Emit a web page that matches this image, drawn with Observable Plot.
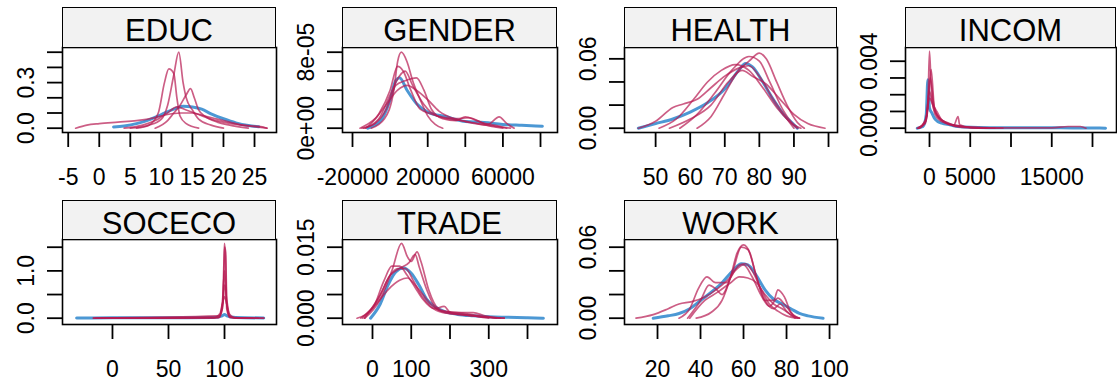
<!DOCTYPE html>
<html><head><meta charset="utf-8">
<script src="https://cdn.jsdelivr.net/npm/d3@7"></script>
<script src="https://cdn.jsdelivr.net/npm/@observablehq/plot@0.6"></script>
<style>
body{margin:0;background:#fff;}
#root{position:relative;width:1117px;height:385px;overflow:hidden;font-family:"Liberation Sans",Arial,sans-serif;}
.strip{position:absolute;box-sizing:border-box;border:1.6px solid #000;background:#F2F2F2;}
.stripText{position:absolute;text-align:center;font-size:31px;line-height:31px;color:#000;white-space:nowrap;}
.panel{position:absolute;}
</style></head><body><div id="root"></div>
<script>
// ---------------- data ----------------
const variables = ["EDUC","GENDER","HEALTH","INCOM","SOCECO","TRADE","WORK"];

// EDUC
const educObserved = [[2.3,0.008],[4,0.015],[6,0.03],[8,0.055],[10,0.09],[12,0.125],[13.5,0.145],[15,0.14],[16.5,0.125],[18,0.095],[20,0.062],[22,0.035],[24,0.018],[25.7,0.01]];
const educImputed = [
  [[-3.8,0],[-2,0.02],[0,0.03],[3,0.04],[6,0.05],[9,0.07],[11,0.09],[13,0.1],[15,0.1],[17,0.08],[19,0.06],[21,0.04],[23,0.02],[25,0.01],[27,0]],
  [[5,0],[8,0.02],[10,0.06],[11,0.15],[12,0.35],[12.8,0.5],[13.5,0.3],[14,0.2],[15,0.12],[16,0.06],[18,0.02],[20,0]],
  [[6,0],[8,0.02],[9.5,0.1],[10.5,0.3],[11.2,0.39],[12,0.36],[12.5,0.2],[13,0.08],[14,0.03],[16,0]],
  [[9,0],[11,0.05],[12,0.1],[13,0.15],[14,0.22],[14.7,0.26],[15.3,0.2],[16,0.12],[17,0.08],[19,0.04],[21,0.02],[24,0]],
  [[4,0],[7,0.02],[9,0.05],[11,0.1],[12.5,0.14],[14,0.12],[16,0.09],[18,0.06],[20,0.04],[23,0.02],[26,0.01],[27,0]]
];
const educXTicks = [-5,0,5,10,15,20,25];
const educXLabels = ["-5","0","5","10","15","20","25"];
const educYTicks = [0,0.1,0.2,0.3,0.4,0.5];
const educYLabels = ["0.0","","","0.3","",""];

// GENDER
const genderObserved = [[-12000,0],[-5000,0.8e-5],[0,3e-5],[3000,5e-5],[5000,5.3e-5],[9000,4e-5],[14000,2.6e-5],[20000,1.7e-5],[30000,1.2e-5],[40000,0.7e-5],[50000,0.6e-5],[60000,0.4e-5],[70000,0.3e-5],[81000,0.2e-5]];
const genderImputed = [
  [[-10000,0],[-3000,1e-5],[2000,4e-5],[4000,7e-5],[6000,8e-5],[9000,7e-5],[12000,5e-5],[16000,3e-5],[20000,1.3e-5],[24000,0.4e-5],[28000,0]],
  [[-15000,0],[-8000,0.5e-5],[-2000,2e-5],[3000,4.5e-5],[8000,5e-5],[14000,5.3e-5],[18000,4e-5],[22000,2e-5],[28000,1e-5],[35000,0.8e-5],[40000,1.2e-5],[46000,0.8e-5],[52000,0.4e-5],[58000,1.2e-5],[62000,0.5e-5],[66000,0]],
  [[-14000,0],[-6000,1e-5],[0,3.5e-5],[5000,5.5e-5],[8000,6e-5],[12000,4.5e-5],[18000,2.5e-5],[25000,1.3e-5],[35000,1e-5],[42000,1.1e-5],[50000,0.5e-5],[56000,0.3e-5],[62000,0]],
  [[-16000,0],[-8000,1e-5],[-2000,2.5e-5],[4000,4e-5],[9000,4.5e-5],[14000,4e-5],[20000,3e-5],[26000,1.8e-5],[34000,1e-5],[40000,0.7e-5],[48000,0.4e-5],[56000,0.2e-5],[64000,0]],
  [[-13000,0],[-6000,1.5e-5],[0,4e-5],[4000,6.5e-5],[7000,6e-5],[11000,4e-5],[16000,2e-5],[22000,1.5e-5],[30000,1e-5],[38000,0.8e-5],[46000,0.5e-5],[54000,0.2e-5],[60000,0]]
];
const genderXTicks = [-20000,0,20000,40000,60000,80000];
const genderXLabels = ["-20000","","20000","","60000",""];
const genderYTicks = [0,2e-5,4e-5,6e-5,8e-5];
const genderYLabels = ["0e+00","","","","8e-05"];

// HEALTH
const healthObserved = [[45,0],[50,0.004],[55,0.008],[60,0.014],[65,0.022],[70,0.034],[74,0.05],[76,0.056],[78,0.053],[81,0.04],[84,0.025],[87,0.012],[90,0.003],[91,0]];
const healthImputed = [
  [[45,0],[50,0.006],[55,0.018],[58,0.021],[62,0.025],[66,0.035],[70,0.045],[74,0.052],[77,0.054],[80,0.045],[84,0.025],[88,0.008],[90,0]],
  [[62,0],[66,0.01],[70,0.03],[74,0.05],[77,0.058],[80,0.065],[82,0.06],[85,0.04],[88,0.02],[91,0.005],[93,0]],
  [[54,0],[60,0.008],[66,0.02],[71,0.04],[75,0.05],[78,0.045],[82,0.038],[86,0.025],[90,0.012],[94,0.004],[99,0]],
  [[57,0],[62,0.012],[67,0.03],[72,0.05],[77,0.062],[80,0.058],[83,0.04],[87,0.015],[90,0.003],[92,0]],
  [[51,0],[56,0.008],[61,0.025],[65,0.04],[69,0.05],[73,0.055],[77,0.05],[81,0.035],[85,0.018],[89,0.005],[91,0]]
];
const healthXTicks = [50,60,70,80,90,100];
const healthXLabels = ["50","60","70","80","90",""];
const healthYTicks = [0,0.02,0.04,0.06];
const healthYLabels = ["0.00","","","0.06"];

// INCOM
const incomObserved = [[-1500,0],[-800,0.0001],[-400,0.0008],[-200,0.0029],[0,0.0012],[300,0.0009],[600,0.0006],[1000,0.0004],[1500,0.0003],[2500,0.0002],[3500,0.0001],[5000,0.00005],[8000,0.00003],[12000,0.00002],[16000,0.00002],[20000,0.00001],[21600,0]];
const incomImputed = [
  [[-1400,0],[-600,0.0003],[-200,0.0015],[0,0.0046],[200,0.0025],[500,0.0012],[900,0.0008],[1500,0.0005],[2200,0.0003],[3000,0.0002],[4000,0.0001],[6000,0.00003],[9000,0]],
  [[-1500,0],[-500,0.0004],[0,0.0022],[300,0.0016],[700,0.0008],[1200,0.0005],[2000,0.0003],[3000,0.0002],[3500,0.0007],[3700,0.0002],[5000,0.00005],[10000,0.00002],[15000,0.00002],[17000,0.0001],[18500,0.0001],[19200,0]],
  [[-1300,0],[-400,0.0005],[100,0.003],[500,0.0015],[1000,0.0007],[1800,0.0004],[2600,0.0002],[4000,0.0001],[7000,0]],
  [[-1200,0],[-300,0.0008],[200,0.0035],[600,0.0012],[1200,0.0006],[2000,0.0003],[3000,0.00015],[5000,0.00005],[8000,0]],
  [[-1400,0],[-500,0.0003],[0,0.0018],[400,0.0014],[900,0.001],[1500,0.0005],[2400,0.0003],[3200,0.0001],[4500,0.00003],[7000,0]]
];
const incomXTicks = [0,5000,10000,15000,20000];
const incomXLabels = ["0","5000","","15000",""];
const incomYTicks = [0,0.001,0.002,0.003,0.004];
const incomYLabels = ["0.000","","","","0.004"];

// SOCECO
const socecoObserved = [[-32,0.005],[0,0.008],[50,0.01],[90,0.015],[98,0.05],[100,0.08],[102,0.05],[110,0.015],[135,0.005]];
const socecoImputed = [
  [[-17,0.003],[50,0.003],[95,0.01],[98,0.2],[99.5,1.2],[100,1.58],[101,1.2],[102,0.2],[105,0.01],[135,0.003]],
  [[-17,0.003],[90,0.005],[96,0.1],[98,0.3],[100,0.45],[102,0.3],[104,0.1],[110,0.005],[135,0.002]],
  [[-10,0.002],[94,0.01],[98,0.2],[100,0.7],[101,0.6],[102,0.3],[104,0.05],[110,0.003],[130,0]],
  [[0,0.002],[95,0.02],[98,0.3],[100,1.0],[102,0.3],[105,0.02],[120,0]],
  [[-15,0.002],[95,0.05],[99,0.4],[100,1.5],[101,1.4],[102,0.4],[106,0.02],[125,0]]
];
const socecoXTicks = [0,50,100];
const socecoXLabels = ["0","50","100"];
const socecoYTicks = [0,0.5,1,1.5];
const socecoYLabels = ["0.0","","1.0",""];

// TRADE
const tradeObserved = [[-5,0],[20,0.003],[40,0.007],[60,0.0098],[80,0.0106],[100,0.0095],[120,0.007],[140,0.004],[160,0.0025],[190,0.0013],[220,0.0008],[260,0.0005],[300,0.0003],[350,0.0002],[400,0.0001],[441,0]];
const tradeImputed = [
  [[-20,0],[20,0.004],[50,0.01],[75,0.0158],[90,0.013],[100,0.012],[115,0.014],[125,0.012],[145,0.006],[170,0.002],[200,0.0012],[250,0.0006],[300,0.0002],[340,0]],
  [[-40,0],[0,0.002],[30,0.008],[50,0.011],[70,0.011],[90,0.009],[110,0.0065],[130,0.004],[160,0.002],[185,0.0025],[200,0.0013],[240,0.001],[280,0.0004],[340,0]],
  [[-30,0],[10,0.003],[40,0.006],[70,0.008],[90,0.0085],[110,0.007],[130,0.005],[150,0.003],[180,0.0015],[230,0.0012],[260,0.0012],[290,0.0005],[330,0]],
  [[-25,0],[15,0.004],[45,0.009],[70,0.0105],[95,0.0118],[110,0.0135],[120,0.011],[140,0.006],[165,0.002],[200,0.001],[250,0.0006],[300,0]],
  [[-20,0],[20,0.005],[45,0.009],[65,0.0105],[85,0.0105],[105,0.008],[125,0.005],[150,0.0025],[180,0.0012],[220,0.0008],[270,0.0004],[320,0]]
];
const tradeXTicks = [0,100,200,300,400];
const tradeXLabels = ["0","100","","300",""];
const tradeYTicks = [0,0.005,0.01,0.015];
const tradeYLabels = ["0.000","","","0.015"];

// WORK
const workObserved = [[18,0],[25,0.002],[30,0.004],[35,0.008],[40,0.015],[45,0.022],[50,0.03],[55,0.04],[59,0.046],[62,0.045],[66,0.036],[70,0.024],[74,0.016],[78,0.012],[82,0.008],[86,0.004],[90,0.002],[97,0]];
const workImputed = [
  [[38,0],[45,0.005],[50,0.015],[54,0.035],[57,0.055],[60,0.062],[63,0.055],[66,0.035],[70,0.015],[74,0.008],[77,0.012],[80,0.006],[84,0]],
  [[34,0],[40,0.015],[44,0.028],[47,0.025],[50,0.02],[55,0.04],[59,0.06],[62,0.058],[66,0.035],[70,0.015],[74,0.015],[76,0.024],[79,0.018],[82,0.005],[85,0]],
  [[30,0],[35,0.008],[39,0.025],[43,0.035],[47,0.03],[52,0.03],[56,0.04],[60,0.045],[64,0.035],[68,0.02],[72,0.01],[76,0.017],[79,0.012],[83,0.003],[86,0]],
  [[10,0],[18,0.003],[25,0.008],[30,0.012],[36,0.014],[42,0.018],[48,0.025],[54,0.035],[58,0.045],[61,0.046],[64,0.04],[68,0.025],[72,0.012],[76,0.006],[80,0.002],[86,0]],
  [[35,0],[42,0.015],[48,0.022],[54,0.03],[58,0.035],[62,0.034],[66,0.03],[70,0.02],[74,0.012],[78,0.008],[82,0.003],[86,0]]
];
const workXTicks = [20,40,60,80,100];
const workXLabels = ["20","40","60","80","100"];
const workYTicks = [0,0.02,0.04,0.06];
const workYLabels = ["0.00","","","0.06"];

// ---------------- layout ----------------
const rows = [{stripTop:7, plotTop:47, plotBottom:132}, {stripTop:200, plotTop:239, plotBottom:324}];
const panelDefs = [
  {name:"EDUC",   row:0, left:62,  right:276,  xd:[-5.92,28.54], yd:[-0.0283,0.531], obs:educObserved,  imp:educImputed,  xt:educXTicks,  xl:educXLabels,  yt:educYTicks,  yl:educYLabels},
  {name:"GENDER", row:0, left:342, right:557,  xd:[-25320,89040], yd:[-0.453e-5,8.495e-5], obs:genderObserved, imp:genderImputed, xt:genderXTicks, xl:genderXLabels, yt:genderYTicks, yl:genderYLabels},
  {name:"HEALTH", row:0, left:624, right:837,  xd:[41.0,102.6], yd:[-0.0037,0.0698], obs:healthObserved, imp:healthImputed, xt:healthXTicks, xl:healthXLabels, yt:healthYTicks, yl:healthYLabels},
  {name:"INCOM",  row:0, left:905, right:1116, xd:[-2945,22945], yd:[-0.000257,0.00482], obs:incomObserved, imp:incomImputed, xt:incomXTicks, xl:incomXLabels, yt:incomYTicks, yl:incomYLabels},
  {name:"SOCECO", row:1, left:62,  right:276,  xd:[-44.6,146.4], yd:[-0.133,1.663], obs:socecoObserved, imp:socecoImputed, xt:socecoXTicks, xl:socecoXLabels, yt:socecoYTicks, yl:socecoYLabels},
  {name:"TRADE",  row:1, left:342, right:557,  xd:[-77.4,477.4], yd:[-0.00133,0.01663], obs:tradeObserved, imp:tradeImputed, xt:tradeXTicks, xl:tradeXLabels, yt:tradeYTicks, yl:tradeYLabels},
  {name:"WORK",   row:1, left:624, right:837,  xd:[4.65,103.7], yd:[-0.00532,0.0665], obs:workObserved, imp:workImputed, xt:workXTicks, xl:workXLabels, yt:workYTicks, yl:workYLabels}
];

const root = document.getElementById("root");
const ML = 62, MR = 1, MT = 1, MB = 56;
const font = "'Liberation Sans', Arial, sans-serif";

for (const p of panelDefs) {
  const r = rows[p.row];
  const pw = p.right - p.left, ph = r.plotBottom - r.plotTop;
  const obsData = p.obs.map(([x, y]) => ({x, y}));
  const impData = p.imp.flatMap((c, k) => c.map(([x, y]) => ({x, y, k})));
  const xMap = new Map(p.xt.map((t, i) => [t, p.xl[i]]));
  const yMap = new Map(p.yt.map((t, i) => [t, p.yl[i]]));

  const svg = Plot.plot({
    width: ML + pw + MR, height: MT + ph + MB,
    marginLeft: ML, marginRight: MR, marginTop: MT, marginBottom: MB,
    x: {domain: p.xd, label: null},
    y: {domain: p.yd, label: null},
    style: {fontFamily: font, fontSize: "23px", color: "#000", background: "transparent", overflow: "visible"},
    marks: [
      Plot.line(obsData, {x: "x", y: "y", stroke: "#006CC2", strokeOpacity: 0.7, strokeWidth: 3, curve: "monotone-x", clip: true}),
      Plot.line(impData, {x: "x", y: "y", z: "k", stroke: "#B61A51", strokeOpacity: 0.7, strokeWidth: 1.7, curve: "monotone-x", clip: true}),
      Plot.frame({stroke: "#000", strokeWidth: 1.6}),
      Plot.axisX({ticks: p.xt, tickFormat: d => xMap.get(d), tickSize: 15, tickPadding: 21, strokeWidth: 1.8, fontSize: 23, fill: "#000", label: null}),
      Plot.axisY({ticks: p.yt, tickFormat: d => yMap.get(d), tickSize: 15, tickPadding: 14, tickRotate: -90, strokeWidth: 1.8, fontSize: 23, fill: "#000", label: null})
    ]
  });
  svg.classList.add("panel");
  svg.style.position = "absolute";
  svg.style.left = (p.left - ML) + "px";
  svg.style.top = (r.plotTop - MT) + "px";
  svg.style.maxWidth = "none";
  root.appendChild(svg);

  const strip = document.createElement("div");
  strip.className = "strip";
  strip.style.left = p.left + "px";
  strip.style.top = r.stripTop + "px";
  strip.style.width = pw + "px";
  strip.style.height = (r.plotTop - r.stripTop + 1) + "px";
  root.appendChild(strip);

  const t = document.createElement("div");
  t.className = "stripText";
  t.textContent = p.name;
  t.style.left = p.left + "px";
  t.style.width = pw + "px";
  t.style.top = (r.stripTop + 8) + "px";
  root.appendChild(t);
}
</script>
</body></html>
